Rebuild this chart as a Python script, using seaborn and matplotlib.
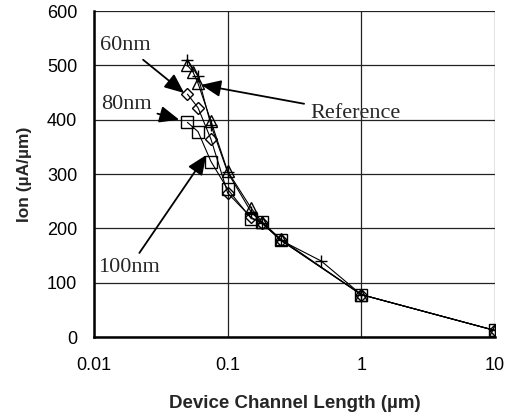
import numpy as np
import pandas as pd
import matplotlib
matplotlib.use("Agg")
import matplotlib.pyplot as plt
import seaborn as sns

# Data
ref_plus_x = [0.05, 0.06, 0.075, 0.1, 0.15, 0.18, 0.25, 0.5, 1, 10]
ref_plus_y = [510, 480, 390, 303, 230, 210, 178, 140, 78, 12]
tri_x = [0.05, 0.055, 0.06, 0.075, 0.1, 0.15, 0.18, 0.25, 1, 10]
tri_y = [500, 488, 467, 397, 305, 237, 212, 180, 78, 12]
dia_x = [0.05, 0.06, 0.075, 0.1, 0.15, 0.18, 0.25, 1, 10]
dia_y = [447, 422, 364, 265, 220, 210, 178, 78, 12]
sq_x = [0.05, 0.06, 0.075, 0.1, 0.15, 0.18, 0.25, 1, 10]
sq_y = [395, 378, 323, 272, 218, 212, 178, 78, 12]

y_ticks = [0, 100, 200, 300, 400, 500, 600]
x_ticks = [0.01, 0.1, 1, 10]
x_tick_labels = ["0.01", "0.1", "1", "10"]

sns.set_style("white")
plt.rcParams['font.family'] = ['Liberation Sans', 'DejaVu Sans']

fig = plt.figure(figsize=(5.1, 4.18), dpi=100)
ax = fig.add_axes([94/510, 1-337/418, 401/510, 326/418])

series = [
    (ref_plus_x, ref_plus_y, '+', 'black'),
    (tri_x, tri_y, '^', 'none'),
    (dia_x, dia_y, 'D', 'none'),
    (sq_x, sq_y, 's', 'none'),
]
for xs, ys, m, fc in series:
    df = pd.DataFrame({"x": xs, "y": ys})
    kw = dict(marker=m, markersize=9 if m != 'D' else 6.5, markeredgecolor='black',
              markerfacecolor=fc if m != '+' else 'black', markeredgewidth=1.0)
    sns.lineplot(data=df, x="x", y="y", ax=ax, color='black', linewidth=0.8, **kw)

ax.set_xscale('log')
ax.set_xlim(0.01, 10)
ax.set_ylim(0, 600)
ax.set_yticks(y_ticks)
ax.set_xticks(x_ticks)
ax.set_xticklabels(x_tick_labels)
ax.minorticks_off()
ax.grid(True, which='major', color='#222222', linewidth=0.9)
for s in ['top', 'right']:
    ax.spines[s].set_visible(False)
ax.spines['left'].set_color('black')
ax.spines['bottom'].set_color('black')
ax.spines['left'].set_linewidth(1.8)
ax.spines['bottom'].set_linewidth(1.8)
ax.tick_params(axis='y', labelsize=13, colors='black', length=5, direction='out', pad=7)
ax.tick_params(axis='x', labelsize=13, colors='black', length=5, direction='inout', pad=12)
ax.set_xlabel("Device Channel Length (µm)", fontsize=13.5, fontweight='bold', labelpad=15)
ax.set_ylabel("Ion (µA/µm)", fontsize=12.5, fontweight='bold', labelpad=11)

serif = ['Liberation Serif', 'DejaVu Serif']
ap = dict(arrowstyle='-|>,head_length=0.75,head_width=0.32', color='black', lw=1.3, shrinkA=2, shrinkB=0)
fs = 16
ax.annotate("60nm", xy=(0.0473, 449), xytext=(0.0171, 537), fontsize=fs, family=serif,
            ha='center', va='center', arrowprops=ap)
ax.annotate("80nm", xy=(0.0434, 400), xytext=(0.0174, 427), fontsize=fs, family=serif,
            ha='center', va='center', arrowprops=ap)
ax.annotate("100nm", xy=(0.0692, 335), xytext=(0.0183, 127), fontsize=fs, family=serif,
            ha='center', va='center', arrowprops=ap)
ax.annotate("Reference", xy=(0.0634, 464), xytext=(0.9, 412), fontsize=fs, family=serif,
            ha='center', va='center', arrowprops=ap)

fig.savefig("out.png", dpi=100)
